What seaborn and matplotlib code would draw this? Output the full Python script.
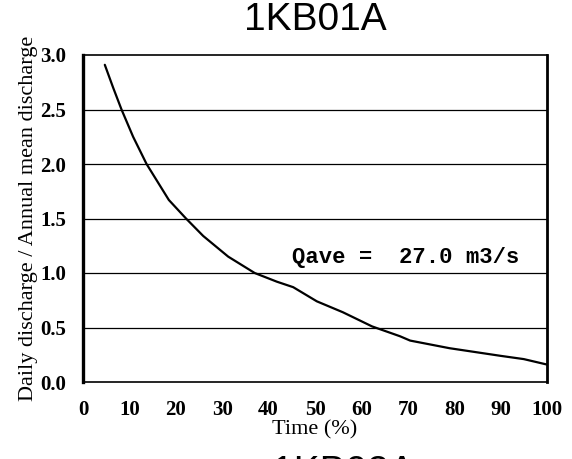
import matplotlib
matplotlib.use("Agg")
import matplotlib.pyplot as plt
import seaborn as sns
import pandas as pd

# Flow duration curve
time_pct = [4.7, 6.5, 8.3, 10.8, 13.7, 15.3, 18.5, 22.2, 25.9, 31.3, 37.0, 41.8,
            45.3, 50.4, 56.0, 62.3, 68.3, 70.5, 79.0, 90.0, 95.0, 100.0]
ratio = [2.91, 2.70, 2.50, 2.25, 2.00, 1.89, 1.67, 1.50, 1.34, 1.15, 1.00, 0.92,
         0.87, 0.74, 0.64, 0.51, 0.42, 0.38, 0.31, 0.24, 0.21, 0.16]
x_ticks = [0, 10, 20, 30, 40, 50, 60, 70, 80, 90, 100]
y_ticks = [0.0, 0.5, 1.0, 1.5, 2.0, 2.5, 3.0]
station = "1KB01A"
next_station = "1KB02A"
qave_label = "Qave =  27.0 m3/s"

df = pd.DataFrame({"Time": time_pct, "Ratio": ratio})

sns.set_style("white")
plt.rcParams["font.family"] = ["Liberation Serif", "DejaVu Serif"]
plt.rcParams["text.color"] = "black"
plt.rcParams["axes.labelcolor"] = "black"
plt.rcParams["xtick.color"] = "black"
plt.rcParams["ytick.color"] = "black"

fig = plt.figure(figsize=(5.72, 4.59), dpi=100)
ax = fig.add_axes([83 / 572, 1 - 382 / 459, (547 - 83) / 572, (382 - 55) / 459])

# horizontal rules at each 0.5
for v in y_ticks[1:-1]:
    ax.axhline(v, color="black", lw=0.9, zorder=1)

sns.lineplot(data=df, x="Time", y="Ratio", color="black", lw=1.6, ax=ax, zorder=3)

ax.set_xlim(0, 100)
ax.set_ylim(0, 3.0)
ax.set_xticks(x_ticks)
ax.set_yticks(y_ticks)
ax.set_xticklabels([str(t) for t in x_ticks], fontsize=15, fontweight="bold")
ax.set_yticklabels([f"{t:.1f}" for t in y_ticks], fontsize=15, fontweight="bold")
ax.tick_params(axis="x", direction="in", length=3, width=1.2, pad=13)
ax.tick_params(axis="y", length=0, pad=12)

ax.set_xlabel("Time (%)", fontsize=16, labelpad=0)
ax.set_ylabel("Daily discharge / Annual mean discharge", fontsize=16, labelpad=2)

for side, w in [("left", 2.4), ("right", 2.0), ("top", 1.2), ("bottom", 1.2)]:
    ax.spines[side].set_visible(True)
    ax.spines[side].set_color("black")
    ax.spines[side].set_linewidth(w)

ax.text(45.0, 1.09, qave_label, family=["Liberation Mono", "DejaVu Sans Mono"],
        fontsize=16, fontweight="bold", va="baseline", ha="left")

fig.text(315 / 572, 1 - 30 / 459, station, family=["Liberation Sans", "DejaVu Sans"],
         fontsize=28, ha="center", va="baseline")
# title of the next chart on the page, mostly below the edge as in the scan
fig.text(343 / 572, 1 - 483 / 459, next_station, family=["Liberation Sans", "DejaVu Sans"],
         fontsize=28, ha="center", va="baseline")

fig.savefig("out.png", dpi=100)
